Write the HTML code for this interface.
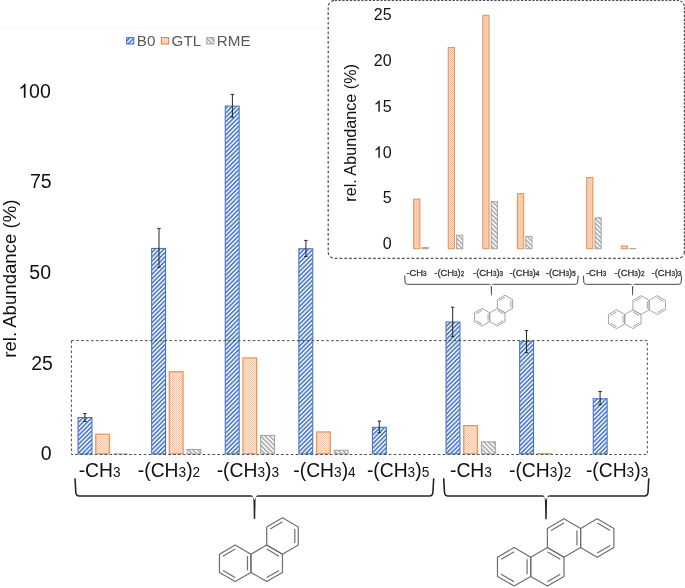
<!DOCTYPE html>
<html><head><meta charset="utf-8"><style>
html,body{margin:0;padding:0;background:#fff;}
body{width:685px;height:588px;overflow:hidden;font-family:"Liberation Sans",sans-serif;}
svg{display:block;will-change:transform;}
</style></head><body>
<svg width="685" height="588" viewBox="0 0 685 588" font-family="Liberation Sans, sans-serif">
<defs>
<pattern id="pb" patternUnits="userSpaceOnUse" width="3.1" height="10" patternTransform="rotate(45)">
 <rect x="0" y="0" width="3.1" height="10" fill="#EAF0FA"/><rect x="0" y="0" width="1.4" height="10" fill="#4472C4"/></pattern>
<pattern id="pr" patternUnits="userSpaceOnUse" width="3.2" height="10" patternTransform="rotate(-45)">
 <rect x="0" y="0" width="3.2" height="10" fill="#F7F7F7"/><rect x="0" y="0" width="1.4" height="10" fill="#A8A8A8"/></pattern>
<pattern id="pg" patternUnits="userSpaceOnUse" width="2" height="2">
 <rect x="0" y="0" width="2" height="2" fill="#FBE3D2"/><rect x="0" y="0" width="1" height="1" fill="#F6C4A2"/><rect x="1" y="1" width="1" height="1" fill="#F8CFB3"/></pattern>
<pattern id="pg2" patternUnits="userSpaceOnUse" width="2" height="2">
 <rect x="0" y="0" width="2" height="2" fill="#FADBC5"/><rect x="0" y="0" width="1" height="1" fill="#F3B58C"/><rect x="1" y="1" width="1" height="1" fill="#F6C6A6"/></pattern>
</defs>
<rect width="685" height="588" fill="#fff"/>
<rect x="0" y="27.8" width="326" height="1" fill="#f7f7f7"/>
<rect x="126.6" y="37.6" width="7.2" height="6.4" fill="url(#pb)" stroke="#4472C4" stroke-width="1"/>
<rect x="161.4" y="37.6" width="7.2" height="6.4" fill="url(#pg)" stroke="#ED7D31" stroke-width="1"/>
<rect x="206.8" y="37.6" width="7.2" height="6.4" fill="url(#pr)" stroke="#A5A5A5" stroke-width="1"/>
<g font-size="15.2" fill="#595959"><text x="136.8" y="45.5">B0</text><text x="171.6" y="45.5">GTL</text><text x="216.8" y="45.5">RME</text></g>
<text x="40.66" y="460.05" font-size="19.5" fill="#111">0</text>
<text x="31.22" y="369.99" font-size="19.5" fill="#111">2</text><text x="42.06" y="369.99" font-size="19.5" fill="#111">5</text>
<text x="29.32" y="278.92" font-size="19.5" fill="#111">5</text><text x="40.16" y="278.92" font-size="19.5" fill="#111">0</text>
<text x="29.92" y="188.36" font-size="19.5" fill="#111">7</text><text x="40.76" y="188.36" font-size="19.5" fill="#111">5</text>
<path d="M25.54,97.80 L23.83,97.80 L23.83,86.88 Q22.27,88.18 20.40,89.10 L20.40,87.44 Q23.03,86.18 24.37,83.84 L25.54,83.84 Z" fill="#111"/><text x="29.12" y="97.80" font-size="19.5" fill="#111">0</text><text x="39.96" y="97.80" font-size="19.5" fill="#111">0</text>
<text transform="translate(15.8,278.7) rotate(-90)" font-size="18.6" fill="#111" text-anchor="middle">rel. Abundance (%)</text>
<rect x="78.05" y="417.55" width="13.90" height="36.30" fill="url(#pb)" stroke="#4a76c6" stroke-width="1.1"/>
<rect x="95.75" y="434.25" width="13.70" height="19.50" fill="url(#pg)" stroke="#F0955A" stroke-width="1.3"/>
<rect x="112.90" y="453.40" width="15.00" height="1.00" fill="#A5A5A5"/>
<rect x="151.65" y="248.45" width="13.90" height="205.40" fill="url(#pb)" stroke="#4a76c6" stroke-width="1.1"/>
<rect x="169.35" y="371.75" width="13.70" height="82.00" fill="url(#pg)" stroke="#F0955A" stroke-width="1.3"/>
<rect x="187.05" y="449.45" width="13.90" height="4.40" fill="url(#pr)" stroke="#A5A5A5" stroke-width="1.1"/>
<rect x="225.25" y="106.15" width="13.90" height="347.70" fill="url(#pb)" stroke="#4a76c6" stroke-width="1.1"/>
<rect x="242.95" y="357.95" width="13.70" height="95.80" fill="url(#pg)" stroke="#F0955A" stroke-width="1.3"/>
<rect x="260.65" y="435.45" width="13.90" height="18.40" fill="url(#pr)" stroke="#A5A5A5" stroke-width="1.1"/>
<rect x="298.85" y="248.75" width="13.90" height="205.10" fill="url(#pb)" stroke="#4a76c6" stroke-width="1.1"/>
<rect x="316.55" y="431.95" width="13.70" height="21.80" fill="url(#pg)" stroke="#F0955A" stroke-width="1.3"/>
<rect x="334.25" y="450.25" width="13.90" height="3.60" fill="url(#pr)" stroke="#A5A5A5" stroke-width="1.1"/>
<rect x="372.45" y="427.35" width="13.90" height="26.50" fill="url(#pb)" stroke="#4a76c6" stroke-width="1.1"/>
<rect x="446.05" y="322.05" width="13.90" height="131.80" fill="url(#pb)" stroke="#4a76c6" stroke-width="1.1"/>
<rect x="463.75" y="425.65" width="13.70" height="28.10" fill="url(#pg)" stroke="#F0955A" stroke-width="1.3"/>
<rect x="481.45" y="441.85" width="13.90" height="12.00" fill="url(#pr)" stroke="#A5A5A5" stroke-width="1.1"/>
<rect x="519.65" y="341.25" width="13.90" height="112.60" fill="url(#pb)" stroke="#4a76c6" stroke-width="1.1"/>
<rect x="537.35" y="453.55" width="13.70" height="0.20" fill="url(#pg)" stroke="#F0955A" stroke-width="1.3"/>
<rect x="593.25" y="398.75" width="13.90" height="55.10" fill="url(#pb)" stroke="#4a76c6" stroke-width="1.1"/>
<g stroke="#262626" stroke-width="1">
<path d="M84.90,413.60 L84.90,421.50 M83.20,413.60 L86.60,413.60 M83.20,421.50 L86.60,421.50"/>
<path d="M159.00,228.40 L159.00,267.30 M157.30,228.40 L160.70,228.40 M157.30,267.30 L160.70,267.30"/>
<path d="M232.40,94.40 L232.40,117.20 M230.70,94.40 L234.10,94.40 M230.70,117.20 L234.10,117.20"/>
<path d="M305.90,240.40 L305.90,256.50 M304.20,240.40 L307.60,240.40 M304.20,256.50 L307.60,256.50"/>
<path d="M379.30,421.10 L379.30,432.70 M377.60,421.10 L381.00,421.10 M377.60,432.70 L381.00,432.70"/>
<path d="M452.70,307.20 L452.70,336.70 M451.00,307.20 L454.40,307.20 M451.00,336.70 L454.40,336.70"/>
<path d="M526.50,330.60 L526.50,352.70 M524.80,330.60 L528.20,330.60 M524.80,352.70 L528.20,352.70"/>
<path d="M600.10,391.50 L600.10,404.70 M598.40,391.50 L601.80,391.50 M598.40,404.70 L601.80,404.70"/>
</g>
<rect x="71.4" y="340.6" width="575.9" height="113.9" fill="none" stroke="#4d4d4d" stroke-width="1" stroke-dasharray="2.6 2.3"/>
<text transform="translate(78.70,476.80) scale(0.97,1)" fill="#111" text-anchor="start" ><tspan font-size="19.9">-CH</tspan><tspan font-size="14.1">3</tspan></text>
<text transform="translate(137.80,476.80) scale(0.97,1)" fill="#111" text-anchor="start" ><tspan font-size="19.9">-(CH</tspan><tspan font-size="14.1">3</tspan><tspan font-size="19.9">)</tspan><tspan font-size="14.1">2</tspan></text>
<text transform="translate(216.70,476.80) scale(0.97,1)" fill="#111" text-anchor="start" ><tspan font-size="19.9">-(CH</tspan><tspan font-size="14.1">3</tspan><tspan font-size="19.9">)</tspan><tspan font-size="14.1">3</tspan></text>
<text transform="translate(293.30,476.80) scale(0.97,1)" fill="#111" text-anchor="start" ><tspan font-size="19.9">-(CH</tspan><tspan font-size="14.1">3</tspan><tspan font-size="19.9">)</tspan><tspan font-size="14.1">4</tspan></text>
<text transform="translate(366.90,476.80) scale(0.97,1)" fill="#111" text-anchor="start" ><tspan font-size="19.9">-(CH</tspan><tspan font-size="14.1">3</tspan><tspan font-size="19.9">)</tspan><tspan font-size="14.1">5</tspan></text>
<text transform="translate(450.00,476.80) scale(0.97,1)" fill="#111" text-anchor="start" ><tspan font-size="19.9">-CH</tspan><tspan font-size="14.1">3</tspan></text>
<text transform="translate(509.00,476.80) scale(0.97,1)" fill="#111" text-anchor="start" ><tspan font-size="19.9">-(CH</tspan><tspan font-size="14.1">3</tspan><tspan font-size="19.9">)</tspan><tspan font-size="14.1">2</tspan></text>
<text transform="translate(585.90,476.80) scale(0.97,1)" fill="#111" text-anchor="start" ><tspan font-size="19.9">-(CH</tspan><tspan font-size="14.1">3</tspan><tspan font-size="19.9">)</tspan><tspan font-size="14.1">3</tspan></text>
<path d="M75.00,478.30 L75.80,492.50 Q76.20,496.00 79.30,496.00 L250.90,496.00 M258.10,496.00 L429.40,496.00 Q432.50,496.00 432.90,492.50 L433.70,478.30" fill="none" stroke="#262626" stroke-width="1.6" stroke-linecap="butt"/><path d="M250.90,495.20 C252.90,495.20 253.45,497.50 253.50,503.50 L253.78,519.10 L255.22,519.10 L255.50,503.50 C255.55,497.50 256.10,495.20 258.10,495.20 L258.10,496.80 Q255.00,496.90 254.50,500.80 Q254.00,496.90 250.90,496.80 Z" fill="#262626"/>
<path d="M443.70,478.30 L444.50,492.50 Q444.90,496.00 448.00,496.00 L542.40,496.00 M549.60,496.00 L644.50,496.00 Q647.60,496.00 648.00,492.50 L648.80,478.30" fill="none" stroke="#262626" stroke-width="1.6" stroke-linecap="butt"/><path d="M542.40,495.20 C544.40,495.20 544.95,497.50 545.00,503.50 L545.28,519.20 L546.72,519.20 L547.00,503.50 C547.05,497.50 547.60,495.20 549.60,495.20 L549.60,496.80 Q546.50,496.90 546.00,500.80 Q545.50,496.90 542.40,496.80 Z" fill="#262626"/>
<g fill="none" stroke="#6e6e6e" stroke-width="1.2" stroke-linejoin="round"><path d="M235.20,545.10 L250.96,554.20 L250.96,572.40 L235.20,581.50 L219.44,572.40 L219.44,554.20 Z"/><path d="M222.91,556.20 L235.20,549.10"/><path d="M247.49,556.20 L247.49,570.40"/><path d="M235.20,577.50 L222.91,570.40"/><path d="M266.72,545.10 L282.48,554.20 L282.48,572.40 L266.72,581.50 L250.96,572.40 L250.96,554.20 Z"/><path d="M266.72,549.10 L279.02,556.20"/><path d="M279.02,570.40 L266.72,577.50"/><path d="M282.48,517.80 L298.25,526.90 L298.25,545.10 L282.48,554.20 L266.72,545.10 L266.72,526.90 Z"/><path d="M294.78,543.10 L294.78,528.90"/><path d="M282.48,521.80 L270.19,528.90"/></g>
<g fill="none" stroke="#6e6e6e" stroke-width="1.2" stroke-linejoin="round"><path d="M514.10,547.60 L530.73,557.20 L530.73,576.40 L514.10,586.00 L497.47,576.40 L497.47,557.20 Z"/><path d="M501.13,559.31 L514.10,551.82"/><path d="M527.07,559.31 L527.07,574.29"/><path d="M514.10,581.78 L501.13,574.29"/><path d="M547.36,547.60 L563.98,557.20 L563.98,576.40 L547.36,586.00 L530.73,576.40 L530.73,557.20 Z"/><path d="M547.36,551.82 L560.32,559.31"/><path d="M560.32,574.29 L547.36,581.78"/><path d="M563.98,518.80 L580.61,528.40 L580.61,547.60 L563.98,557.20 L547.36,547.60 L547.36,528.40 Z"/><path d="M551.01,530.51 L563.98,523.02"/><path d="M576.95,530.51 L576.95,545.49"/><path d="M597.24,518.80 L613.87,528.40 L613.87,547.60 L597.24,557.20 L580.61,547.60 L580.61,528.40 Z"/><path d="M597.24,523.02 L610.21,530.51"/><path d="M610.21,545.49 L597.24,552.98"/></g>
<g fill="none" stroke="#4d4d4d" stroke-width="1.2"><path d="M334.7,0.5 L677.9,0.5 A6.5,6.5 0 0 1 684.4,7.0 L684.4,251.89999999999998" stroke-dasharray="2.3 1.5"/><path d="M684.4,251.89999999999998 A6.5,6.5 0 0 1 677.9,258.4 L334.7,258.4 A6.5,6.5 0 0 1 328.2,251.89999999999998 L328.2,7.0 A6.5,6.5 0 0 1 334.7,0.5" stroke-dasharray="2.7 2.1"/></g>
<rect x="413.65" y="199.15" width="6.20" height="49.50" fill="url(#pg2)" stroke="#F0945A" stroke-width="1.1"/>
<rect x="422.00" y="247.60" width="6.20" height="1.10" fill="url(#pr)" stroke="#A5A5A5" stroke-width="1.0"/>
<rect x="448.25" y="47.55" width="6.20" height="201.10" fill="url(#pg2)" stroke="#F0945A" stroke-width="1.1"/>
<rect x="456.60" y="235.20" width="6.20" height="13.50" fill="url(#pr)" stroke="#A5A5A5" stroke-width="1.0"/>
<rect x="482.85" y="15.35" width="6.20" height="233.30" fill="url(#pg2)" stroke="#F0945A" stroke-width="1.1"/>
<rect x="491.20" y="201.70" width="6.20" height="47.00" fill="url(#pr)" stroke="#A5A5A5" stroke-width="1.0"/>
<rect x="517.45" y="193.65" width="6.20" height="55.00" fill="url(#pg2)" stroke="#F0945A" stroke-width="1.1"/>
<rect x="525.80" y="236.40" width="6.20" height="12.30" fill="url(#pr)" stroke="#A5A5A5" stroke-width="1.0"/>
<rect x="586.65" y="177.55" width="6.20" height="71.10" fill="url(#pg2)" stroke="#F0945A" stroke-width="1.1"/>
<rect x="595.00" y="217.80" width="6.20" height="30.90" fill="url(#pr)" stroke="#A5A5A5" stroke-width="1.0"/>
<rect x="621.25" y="246.05" width="6.20" height="2.60" fill="url(#pg2)" stroke="#F0945A" stroke-width="1.1"/>
<rect x="629.60" y="248.60" width="6.20" height="0.10" fill="url(#pr)" stroke="#A5A5A5" stroke-width="1.0"/>
<text x="382.70" y="249.20" font-size="16" fill="#111">0</text>
<text x="382.70" y="203.42" font-size="16" fill="#111">5</text>
<path d="M379.77,157.64 L378.36,157.64 L378.36,148.68 Q377.09,149.75 375.55,150.50 L375.55,149.14 Q377.71,148.11 378.81,146.19 L379.77,146.19 Z" fill="#111"/><text x="382.70" y="157.64" font-size="16" fill="#111">0</text>
<path d="M379.77,111.86 L378.36,111.86 L378.36,102.90 Q377.09,103.97 375.55,104.72 L375.55,103.36 Q377.71,102.33 378.81,100.41 L379.77,100.41 Z" fill="#111"/><text x="382.70" y="111.86" font-size="16" fill="#111">5</text>
<text x="373.81" y="66.08" font-size="16" fill="#111">2</text><text x="382.70" y="66.08" font-size="16" fill="#111">0</text>
<text x="373.81" y="20.30" font-size="16" fill="#111">2</text><text x="382.70" y="20.30" font-size="16" fill="#111">5</text>
<text transform="translate(355.8,132.9) rotate(-90)" font-size="16.2" fill="#111" text-anchor="middle">rel. Abundance (%)</text>
<text transform="translate(406.40,275.70) scale(1.0,1)" fill="#333" text-anchor="start" stroke="#333" stroke-width="0.3"><tspan font-size="9.4">-CH</tspan><tspan font-size="6.3">3</tspan></text>
<text transform="translate(434.30,275.70) scale(1.0,1)" fill="#333" text-anchor="start" stroke="#333" stroke-width="0.3"><tspan font-size="9.4">-(CH</tspan><tspan font-size="6.3">3</tspan><tspan font-size="9.4">)</tspan><tspan font-size="6.3">2</tspan></text>
<text transform="translate(473.10,275.70) scale(1.0,1)" fill="#333" text-anchor="start" stroke="#333" stroke-width="0.3"><tspan font-size="9.4">-(CH</tspan><tspan font-size="6.3">3</tspan><tspan font-size="9.4">)</tspan><tspan font-size="6.3">3</tspan></text>
<text transform="translate(509.40,275.70) scale(1.0,1)" fill="#333" text-anchor="start" stroke="#333" stroke-width="0.3"><tspan font-size="9.4">-(CH</tspan><tspan font-size="6.3">3</tspan><tspan font-size="9.4">)</tspan><tspan font-size="6.3">4</tspan></text>
<text transform="translate(545.80,275.70) scale(1.0,1)" fill="#333" text-anchor="start" stroke="#333" stroke-width="0.3"><tspan font-size="9.4">-(CH</tspan><tspan font-size="6.3">3</tspan><tspan font-size="9.4">)</tspan><tspan font-size="6.3">5</tspan></text>
<text transform="translate(586.00,275.70) scale(1.0,1)" fill="#333" text-anchor="start" stroke="#333" stroke-width="0.3"><tspan font-size="9.4">-CH</tspan><tspan font-size="6.3">3</tspan></text>
<text transform="translate(614.50,275.70) scale(1.0,1)" fill="#333" text-anchor="start" stroke="#333" stroke-width="0.3"><tspan font-size="9.4">-(CH</tspan><tspan font-size="6.3">3</tspan><tspan font-size="9.4">)</tspan><tspan font-size="6.3">2</tspan></text>
<text transform="translate(651.60,275.70) scale(1.0,1)" fill="#333" text-anchor="start" stroke="#333" stroke-width="0.3"><tspan font-size="9.4">-(CH</tspan><tspan font-size="6.3">3</tspan><tspan font-size="9.4">)</tspan><tspan font-size="6.3">3</tspan></text>
<path d="M404.70,275.50 L405.14,282.10 Q405.36,284.30 407.34,284.30 L489.40,284.30 M493.40,284.30 L575.46,284.30 Q577.44,284.30 577.66,282.10 L578.10,275.50" fill="none" stroke="#444" stroke-width="1.0" stroke-linecap="butt"/><path d="M489.40,283.80 C490.52,283.80 490.82,285.12 490.85,288.43 L491.00,295.30 L491.80,295.30 L491.95,288.43 C491.98,285.12 492.28,283.80 493.40,283.80 L493.40,284.80 Q491.67,284.86 491.40,286.94 Q491.12,284.86 489.40,284.80 Z" fill="#444"/>
<path d="M583.40,275.80 L583.84,282.10 Q584.06,284.30 586.04,284.30 L630.60,284.30 M634.60,284.30 L678.96,284.30 Q680.94,284.30 681.16,282.10 L681.60,275.80" fill="none" stroke="#444" stroke-width="1.0" stroke-linecap="butt"/><path d="M630.60,283.80 C631.72,283.80 632.02,285.12 632.05,288.43 L632.20,295.30 L633.00,295.30 L633.15,288.43 C633.18,285.12 633.48,283.80 634.60,283.80 L634.60,284.80 Q632.88,284.86 632.60,286.94 Q632.33,284.86 630.60,284.80 Z" fill="#444"/>
<g fill="none" stroke="#9a9a9a" stroke-width="0.9" stroke-linejoin="round"><path d="M482.10,308.40 L489.72,312.80 L489.72,321.60 L482.10,326.00 L474.48,321.60 L474.48,312.80 Z"/><path d="M476.16,313.77 L482.10,310.34"/><path d="M488.04,313.77 L488.04,320.63"/><path d="M482.10,324.06 L476.16,320.63"/><path d="M497.34,308.40 L504.96,312.80 L504.96,321.60 L497.34,326.00 L489.72,321.60 L489.72,312.80 Z"/><path d="M497.34,310.34 L503.29,313.77"/><path d="M503.29,320.63 L497.34,324.06"/><path d="M504.96,295.20 L512.58,299.60 L512.58,308.40 L504.96,312.80 L497.34,308.40 L497.34,299.60 Z"/><path d="M510.91,307.43 L510.91,300.57"/><path d="M504.96,297.14 L499.02,300.57"/></g>
<g fill="none" stroke="#9a9a9a" stroke-width="0.9" stroke-linejoin="round"><path d="M616.60,309.80 L624.74,314.50 L624.74,323.90 L616.60,328.60 L608.46,323.90 L608.46,314.50 Z"/><path d="M610.25,315.53 L616.60,311.87"/><path d="M622.95,315.53 L622.95,322.87"/><path d="M616.60,326.53 L610.25,322.87"/><path d="M632.88,309.80 L641.02,314.50 L641.02,323.90 L632.88,328.60 L624.74,323.90 L624.74,314.50 Z"/><path d="M632.88,311.87 L639.23,315.53"/><path d="M639.23,322.87 L632.88,326.53"/><path d="M641.02,295.70 L649.16,300.40 L649.16,309.80 L641.02,314.50 L632.88,309.80 L632.88,300.40 Z"/><path d="M634.67,301.43 L641.02,297.77"/><path d="M647.37,301.43 L647.37,308.77"/><path d="M657.30,295.70 L665.44,300.40 L665.44,309.80 L657.30,314.50 L649.16,309.80 L649.16,300.40 Z"/><path d="M657.30,297.77 L663.65,301.43"/><path d="M663.65,308.77 L657.30,312.43"/></g>
</svg>
</body></html>
